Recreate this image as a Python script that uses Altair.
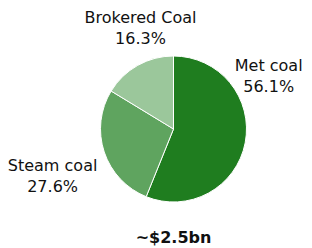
import altair as alt
import pandas as pd

categories = ["Met coal", "Steam coal", "Brokered Coal"]
shares = [56.1, 27.6, 16.3]
pct_labels = ["56.1%", "27.6%", "16.3%"]
colors = ["#1f7d1f", "#5fa45f", "#9bc79b"]
title_text = "~$2.5bn"

df = pd.DataFrame({
    "cat": categories,
    "share": shares,
    "pct": pct_labels,
    "order": [0, 1, 2],
})

FONT = "DejaVu Sans"

base = alt.Chart(df).encode(
    theta=alt.Theta("share:Q", stack=True),
    order=alt.Order("order:Q"),
)

pie = base.mark_arc(outerRadius=73, stroke="white", strokeWidth=1).encode(
    color=alt.Color("cat:N", scale=alt.Scale(domain=categories, range=colors), legend=None)
)

offsets = {
    "Met coal": (-3, -82),
    "Steam coal": (-26, 6),
    "Brokered Coal": (16, -24),
}

layers = [pie]
for cat in categories:
    dx, dy = offsets[cat]
    layers.append(
        base.transform_calculate(
            lbl=f"datum.cat === '{cat}' ? datum.cat + '\\n' + datum.pct : ''"
        ).mark_text(
            radius=100, dx=dx, dy=dy, font=FONT, fontSize=16, lineBreak="\n",
            lineHeight=21, align="center", baseline="middle", color="#111111",
        ).encode(text="lbl:N")
    )

chart = alt.layer(*layers).properties(
    width=261,
    height=200,
    padding={"left": 35, "top": 21, "right": 0, "bottom": 18},
    autosize=alt.AutoSizeParams(type="none"),
    title=alt.TitleParams(
        title_text, orient="bottom", anchor="middle", offset=1,
        font=FONT, fontSize=16, fontWeight="bold", color="#111111",
    ),
).configure_view(stroke=None)

chart.save("out.html", embed_options={"renderer": "svg", "actions": False})
